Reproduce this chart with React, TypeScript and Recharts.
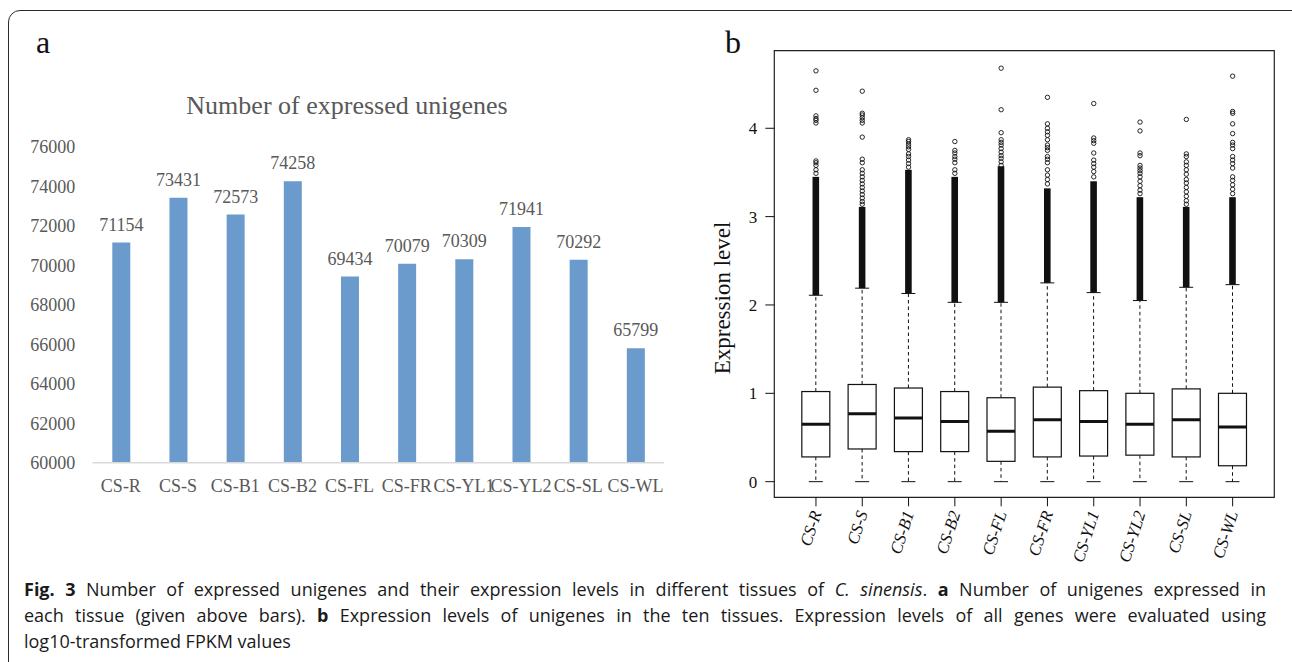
import React from 'react';
import {
  BarChart,
  Bar,
  XAxis,
  YAxis,
  LabelList,
  ComposedChart,
  Scatter,
  ReferenceArea,
  Label,
} from 'recharts';

// tissues shared by both panels
const tissues = ['CS-R', 'CS-S', 'CS-B1', 'CS-B2', 'CS-FL', 'CS-FR', 'CS-YL1', 'CS-YL2', 'CS-SL', 'CS-WL'];

// panel a: number of expressed unigenes
const unigeneCounts = [71154, 73431, 72573, 74258, 69434, 70079, 70309, 71941, 70292, 65799];
const countTicks = [60000, 62000, 64000, 66000, 68000, 70000, 72000, 74000, 76000];

// panel b: log10 FPKM box stats
const boxQ1 = [0.28, 0.37, 0.34, 0.34, 0.23, 0.28, 0.29, 0.30, 0.28, 0.18];
const boxMedian = [0.65, 0.77, 0.72, 0.68, 0.57, 0.70, 0.68, 0.65, 0.70, 0.62];
const boxQ3 = [1.02, 1.10, 1.06, 1.02, 0.95, 1.07, 1.03, 1.00, 1.05, 1.00];
const whiskerLow = [0, 0, 0, 0, 0, 0, 0, 0, 0, 0];
const whiskerHigh = [2.11, 2.19, 2.13, 2.03, 2.03, 2.25, 2.14, 2.05, 2.20, 2.23];
// outliers are so dense up to here that they print as a solid column
const denseOutlierTop = [3.45, 3.11, 3.53, 3.45, 3.57, 3.32, 3.40, 3.22, 3.11, 3.22];
const sparseOutliers: number[][] = [
  [4.65, 4.43, 4.14, 4.11, 4.09, 4.06, 3.63, 3.61, 3.58, 3.53, 3.49],
  [4.42, 4.17, 4.15, 4.12, 4.09, 4.06, 3.90, 3.65, 3.61, 3.53, 3.49, 3.45, 3.41, 3.37, 3.33, 3.29, 3.25, 3.21, 3.17, 3.14],
  [3.87, 3.85, 3.82, 3.79, 3.76, 3.71, 3.68, 3.64, 3.60, 3.56],
  [3.85, 3.75, 3.72, 3.68, 3.65, 3.61, 3.53, 3.49],
  [4.68, 4.21, 3.95, 3.87, 3.84, 3.81, 3.77, 3.73, 3.69, 3.66, 3.62, 3.58],
  [4.35, 4.05, 4.00, 3.96, 3.92, 3.87, 3.81, 3.78, 3.75, 3.68, 3.65, 3.61, 3.53, 3.47, 3.42, 3.37],
  [4.28, 3.89, 3.86, 3.83, 3.72, 3.64, 3.60, 3.56, 3.51, 3.45],
  [4.07, 3.97, 3.72, 3.69, 3.58, 3.55, 3.52, 3.49, 3.45, 3.40, 3.35, 3.30, 3.26],
  [4.10, 3.71, 3.68, 3.62, 3.58, 3.53, 3.48, 3.42, 3.38, 3.33, 3.28, 3.23, 3.18, 3.14],
  [4.59, 4.19, 4.17, 4.05, 3.94, 3.84, 3.81, 3.77, 3.68, 3.64, 3.60, 3.55, 3.45, 3.41, 3.36, 3.31, 3.26],
];
const levelTicks = [0, 1, 2, 3, 4];

const countData = tissues.map((name, i) => ({ name, count: unigeneCounts[i] }));
const positions = tissues.map((_, i) => i + 1);
const boxData = tissues.map((name, i) => ({
  pos: i + 1,
  name,
  range: [whiskerLow[i], whiskerHigh[i]],
  lo: whiskerLow[i],
  hi: whiskerHigh[i],
  q1: boxQ1[i],
  median: boxMedian[i],
  q3: boxQ3[i],
  dense: denseOutlierTop[i],
}));
const outlierData = sparseOutliers.flatMap((vals, i) => vals.map((v) => ({ pos: i + 1, v })));

const serif = '"Liberation Serif", "Times New Roman", serif';
const grey = '#595959';
const ink = '#111';

// draws the whole box from the bar's whisker extent (linear scale)
function BoxShape(props: any) {
  const { x, y, width, height, payload } = props;
  if (!payload) return null;
  const top = Math.min(y, y + height);
  const bottom = Math.max(y, y + height);
  const { lo, hi, q1, median, q3, dense } = payload;
  const py = (v: number) => bottom - ((v - lo) / (hi - lo)) * (bottom - top);
  const cx = x + width / 2;
  const st = width / 4;
  return (
    <g>
      <rect x={cx - 3.3} y={py(dense)} width={6.6} height={py(hi) - py(dense)} fill={ink} />
      <line x1={cx} x2={cx} y1={py(q3)} y2={py(hi)} stroke={ink} strokeWidth={1} strokeDasharray="3.5 3" />
      <line x1={cx} x2={cx} y1={py(q1)} y2={py(lo)} stroke={ink} strokeWidth={1} strokeDasharray="3.5 3" />
      <line x1={cx - st} x2={cx + st} y1={py(hi)} y2={py(hi)} stroke={ink} strokeWidth={1} />
      <line x1={cx - st} x2={cx + st} y1={py(lo)} y2={py(lo)} stroke={ink} strokeWidth={1} />
      <rect x={x} y={py(q3)} width={width} height={py(q1) - py(q3)} fill="#fff" stroke={ink} strokeWidth={1.2} />
      <line x1={x} x2={x + width} y1={py(median)} y2={py(median)} stroke={ink} strokeWidth={3} />
    </g>
  );
}

function OutlierDot(props: any) {
  const { cx, cy } = props;
  return <circle cx={cx} cy={cy} r={2.2} fill="none" stroke={ink} strokeWidth={0.9} />;
}

function TissueTick(props: any) {
  const { x, y, payload } = props;
  const name = tissues[Math.round(payload.value) - 1];
  return (
    <g transform={`translate(${x},${y})`}>
      <text
        x={0}
        y={0}
        dy="0.35em"
        textAnchor="end"
        transform="rotate(-72)"
        fontStyle="italic"
        fontSize={17}
        fontFamily={serif}
        fill={ink}
      >
        {name}
      </text>
    </g>
  );
}

function LevelTitle(props: any) {
  const vb = props.viewBox;
  const cx = vb.x + 30;
  const cy = 298;
  return (
    <text
      x={cx}
      y={cy}
      transform={`rotate(-90 ${cx} ${cy})`}
      textAnchor="middle"
      fontSize={23}
      fontFamily={serif}
      fill={ink}
    >
      Expression level
    </text>
  );
}

export default function App() {
  return (
    <div
      style={{
        position: 'fixed',
        left: 0,
        top: 0,
        width: 1292,
        height: 662,
        overflow: 'hidden',
        background: '#fff',
      }}
    >
      <div
        style={{
          position: 'absolute',
          left: 8,
          top: 10,
          width: 1320,
          height: 720,
          border: '1.5px solid #2b2b2b',
          borderRadius: 12,
          boxSizing: 'border-box',
        }}
      />

      {/* a */}
      <div style={{ position: 'absolute', left: 0, top: 0 }}>
        <BarChart width={700} height={520} data={countData} margin={{ top: 147, right: 36, bottom: 17.3, left: 0 }}>
          <XAxis
            dataKey="name"
            interval={0}
            height={40}
            axisLine={{ stroke: '#d9d9d9', strokeWidth: 1.5 }}
            tickLine={false}
            tickSize={0}
            tickMargin={17}
            tick={{ fill: grey, fontSize: 18, fontFamily: serif }}
          />
          <YAxis
            type="number"
            domain={[60000, 76000]}
            ticks={countTicks}
            width={92.3}
            axisLine={false}
            tickLine={false}
            tickSize={0}
            tickMargin={17}
            tick={{ fill: grey, fontSize: 18, fontFamily: serif }}
          />
          <Bar dataKey="count" fill="#6a9bcc" barSize={18} isAnimationActive={false}>
            <LabelList dataKey="count" position="top" offset={12} fill={grey} fontSize={18} fontFamily={serif} />
          </Bar>
        </BarChart>
      </div>

      {/* b */}
      <div style={{ position: 'absolute', left: 700, top: 0 }}>
        <ComposedChart width={592} height={600} data={boxData} margin={{ top: 50.7, right: 17.7, bottom: 22.7, left: 0 }}>
          <XAxis
            type="number"
            dataKey="pos"
            domain={[0.1, 10.9]}
            allowDataOverflow
            ticks={positions}
            interval={0}
            height={80}
            axisLine={false}
            tickSize={9}
            tickMargin={5}
            tickLine={{ stroke: ink }}
            tick={<TissueTick />}
          />
          <YAxis
            type="number"
            domain={[-0.177, 4.878]}
            allowDataOverflow
            ticks={levelTicks}
            width={74.3}
            axisLine={false}
            tickSize={9}
            tickMargin={8}
            tickLine={{ stroke: ink }}
            tick={{ fill: ink, fontSize: 17, fontFamily: serif }}
            label={<Label content={LevelTitle} />}
          />
          <ReferenceArea
            x1={0.1}
            x2={10.9}
            y1={-0.177}
            y2={4.878}
            ifOverflow="visible"
            fill="none"
            stroke="#222"
            strokeWidth={1.2}
          />
          <Bar dataKey="range" barSize={28} shape={<BoxShape />} isAnimationActive={false} />
          <Scatter data={outlierData} dataKey="v" shape={<OutlierDot />} isAnimationActive={false} />
        </ComposedChart>
      </div>

      <svg
        width={1292}
        height={662}
        style={{ position: 'absolute', left: 0, top: 0, pointerEvents: 'none' }}
      >
        <text x={36} y={53} fontSize={32} fontFamily={serif} fill={ink}>a</text>
        <text x={725} y={53} fontSize={32} fontFamily={serif} fill={ink}>b</text>
        <text x={347} y={114} textAnchor="middle" fontSize={26} fontFamily={serif} fill={grey}>
          Number of expressed unigenes
        </text>
      </svg>

      <div
        style={{
          position: 'absolute',
          left: 24,
          top: 576,
          width: 1242,
          fontFamily: '"Open Sans", "Noto Sans", sans-serif',
          fontSize: 18,
          lineHeight: '26px',
          color: '#1a1a1a',
        }}
      >
        <div style={{ textAlign: 'justify', textAlignLast: 'justify', whiteSpace: 'nowrap' }}>
          <b>Fig. 3</b> Number of expressed unigenes and their expression levels in different tissues of{' '}
          <i>C. sinensis</i>. <b>a</b> Number of unigenes expressed in
        </div>
        <div style={{ textAlign: 'justify', textAlignLast: 'justify', whiteSpace: 'nowrap' }}>
          each tissue (given above bars). <b>b</b> Expression levels of unigenes in the ten tissues. Expression levels of
          all genes were evaluated using
        </div>
        <div>log10-transformed FPKM values</div>
      </div>
    </div>
  );
}
